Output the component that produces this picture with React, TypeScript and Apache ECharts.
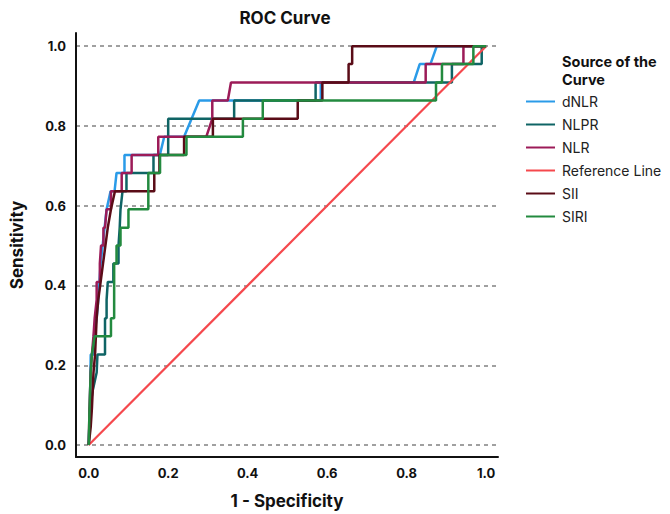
import React, { useEffect, useRef } from "react";
import * as echarts from "echarts";

// ---- data (x = 1 - specificity, y = sensitivity) ----
const SERIES_NAMES = ["dNLR", "NLPR", "NLR", "Reference Line", "SII", "SIRI"];
const SERIES_COLORS = ["#2a9be8", "#0f6465", "#9c1b58", "#f5484d", "#5a0c17", "#238a3f"];

const dNLR = [
  [0, 0], [0.003, 0.091], [0.005, 0.227], [0.013, 0.227], [0.013, 0.273], [0.02, 0.318],
  [0.024, 0.364], [0.027, 0.409], [0.03, 0.455], [0.035, 0.5], [0.04, 0.545], [0.045, 0.591],
  [0.055, 0.636], [0.065, 0.636], [0.07, 0.682], [0.09, 0.682], [0.09, 0.727], [0.179, 0.727],
  [0.19, 0.773], [0.24, 0.773], [0.278, 0.864], [0.584, 0.864], [0.584, 0.909], [0.818, 0.909],
  [0.833, 0.955], [0.86, 0.955], [0.876, 1], [1, 1],
];

const NLPR = [
  [0, 0], [0.003, 0.091], [0.01, 0.136], [0.02, 0.182], [0.022, 0.227], [0.041, 0.227],
  [0.041, 0.318], [0.045, 0.318], [0.045, 0.364], [0.048, 0.409], [0.062, 0.409], [0.062, 0.455],
  [0.075, 0.455], [0.075, 0.5], [0.078, 0.545], [0.08, 0.591], [0.085, 0.636], [0.095, 0.636],
  [0.095, 0.682], [0.163, 0.682], [0.163, 0.727], [0.2, 0.727], [0.2, 0.818], [0.366, 0.818],
  [0.366, 0.864], [0.571, 0.864], [0.571, 0.909], [0.914, 0.909], [0.914, 0.955], [0.989, 0.955],
  [0.989, 1], [1, 1],
];

const NLR = [
  [0, 0], [0.002, 0.091], [0.005, 0.182], [0.008, 0.227], [0.012, 0.273], [0.015, 0.318],
  [0.02, 0.364], [0.02, 0.409], [0.028, 0.409], [0.028, 0.455], [0.031, 0.5], [0.037, 0.5],
  [0.037, 0.545], [0.041, 0.545], [0.045, 0.591], [0.056, 0.591], [0.056, 0.636], [0.083, 0.636],
  [0.083, 0.682], [0.108, 0.682], [0.108, 0.727], [0.175, 0.727], [0.175, 0.773], [0.296, 0.773],
  [0.311, 0.818], [0.311, 0.864], [0.35, 0.864], [0.358, 0.909], [0.848, 0.909], [0.848, 0.955],
  [0.943, 0.955], [0.943, 1], [1, 1],
];

const REFERENCE = [[0, 0], [1, 1]];

const SII = [
  [0, 0], [0.005, 0.045], [0.008, 0.091], [0.01, 0.136], [0.012, 0.182], [0.016, 0.227],
  [0.018, 0.273], [0.02, 0.318], [0.024, 0.364], [0.03, 0.409], [0.036, 0.455], [0.042, 0.5],
  [0.048, 0.545], [0.056, 0.591], [0.066, 0.636], [0.165, 0.636], [0.165, 0.682], [0.178, 0.682],
  [0.178, 0.727], [0.24, 0.727], [0.24, 0.773], [0.3125, 0.773], [0.3125, 0.818], [0.526, 0.818],
  [0.526, 0.864], [0.588, 0.864], [0.588, 0.909], [0.654, 0.909], [0.654, 0.955], [0.663, 0.955],
  [0.663, 1], [1, 1],
];

const SIRI = [
  [0, 0], [0.002, 0.091], [0.005, 0.182], [0.008, 0.227], [0.015, 0.273], [0.056, 0.273],
  [0.056, 0.318], [0.064, 0.318], [0.064, 0.455], [0.07, 0.455], [0.07, 0.5], [0.08, 0.5],
  [0.08, 0.545], [0.1, 0.545], [0.1, 0.591], [0.15, 0.591], [0.15, 0.682], [0.1795, 0.682],
  [0.1795, 0.727], [0.246, 0.727], [0.246, 0.773], [0.388, 0.773], [0.388, 0.818], [0.438, 0.818],
  [0.438, 0.864], [0.874, 0.864], [0.874, 0.909], [0.889, 0.909], [0.889, 0.955], [0.968, 0.955],
  [0.968, 1], [1, 1],
];

const SERIES_DATA = [dNLR, NLPR, NLR, REFERENCE, SII, SIRI];

const FONT = "Inter, 'Noto Sans', sans-serif";

const tickFmt = (v: number) => {
  const r = Math.round(v * 10) / 10;
  if (Math.abs(v - r) > 1e-6) return "";
  return r.toFixed(1);
};

export default function App() {
  const ref = useRef<HTMLDivElement>(null);
  useEffect(() => {
    if (!ref.current) return;
    const chart = echarts.init(ref.current, undefined, { renderer: "svg" });
    const axisLabel = {
      formatter: tickFmt,
      showMinLabel: false,
      showMaxLabel: false,
      fontFamily: FONT,
      fontWeight: "bold" as const,
      fontSize: 13,
      color: "#111",
    };
    const legendTitleStyle = {
      fontFamily: FONT,
      fontSize: 14.5,
      fontWeight: "bold" as const,
      color: "#111",
      lineHeight: 16,
    };
    chart.setOption({
      animation: false,
      textStyle: { fontFamily: FONT },
      title: [
        {
          text: "ROC Curve",
          left: 285,
          top: 9,
          padding: 0,
          textAlign: "center",
          textStyle: { fontFamily: FONT, fontSize: 17, fontWeight: "bold", color: "#111" },
        },
        { text: "Source of the", left: 562, top: 53, padding: 0, textStyle: legendTitleStyle },
        { text: "Curve", left: 562, top: 71, padding: 0, textStyle: legendTitleStyle },
      ],
      legend: {
        orient: "vertical",
        left: 521,
        top: 88,
        icon: "rect",
        itemWidth: 29,
        itemHeight: 2,
        itemGap: 6,
        data: SERIES_NAMES,
        textStyle: { fontFamily: FONT, fontSize: 14, color: "#222", lineHeight: 17, padding: [0, 0, 0, 2] },
      },
      grid: { left: 74, right: 172, top: 33, bottom: 56 },
      xAxis: {
        type: "value",
        min: -0.032,
        max: 1.03,
        splitNumber: 5,
        name: "1 - Specificity",
        nameLocation: "middle",
        nameGap: 35,
        nameTextStyle: { fontFamily: FONT, fontWeight: "bold", fontSize: 17, color: "#111" },
        axisLine: { onZero: false, lineStyle: { color: "#111", width: 2 } },
        axisTick: { show: false },
        splitLine: { show: false },
        axisLabel: { ...axisLabel, margin: 9 },
      },
      yAxis: {
        type: "value",
        min: -0.03,
        max: 1.033,
        splitNumber: 5,
        name: "Sensitivity",
        nameLocation: "middle",
        nameGap: 51,
        nameTextStyle: { fontFamily: FONT, fontWeight: "bold", fontSize: 17, color: "#111" },
        axisLine: { onZero: false, lineStyle: { color: "#111", width: 2 } },
        axisTick: { show: false },
        splitLine: {
          show: true,
          showMinLine: false,
          showMaxLine: false,
          lineStyle: { color: "#a0a0a0", width: 2, type: [4, 4] },
        },
        axisLabel: { ...axisLabel, margin: 10 },
      },
      series: SERIES_NAMES.map((name, i) => ({
        name,
        type: "line",
        data: SERIES_DATA[i],
        showSymbol: false,
        symbol: "none",
        clip: false,
        color: SERIES_COLORS[i],
        lineStyle: { color: SERIES_COLORS[i], width: name === "Reference Line" ? 2.2 : 2.5 },
        emphasis: { disabled: true },
        z: 2 + i,
      })),
    });
    return () => chart.dispose();
  }, []);
  return (
    <div
      ref={ref}
      style={{ position: "fixed", left: 0, top: 0, width: 670, height: 514, background: "#fff" }}
    />
  );
}
